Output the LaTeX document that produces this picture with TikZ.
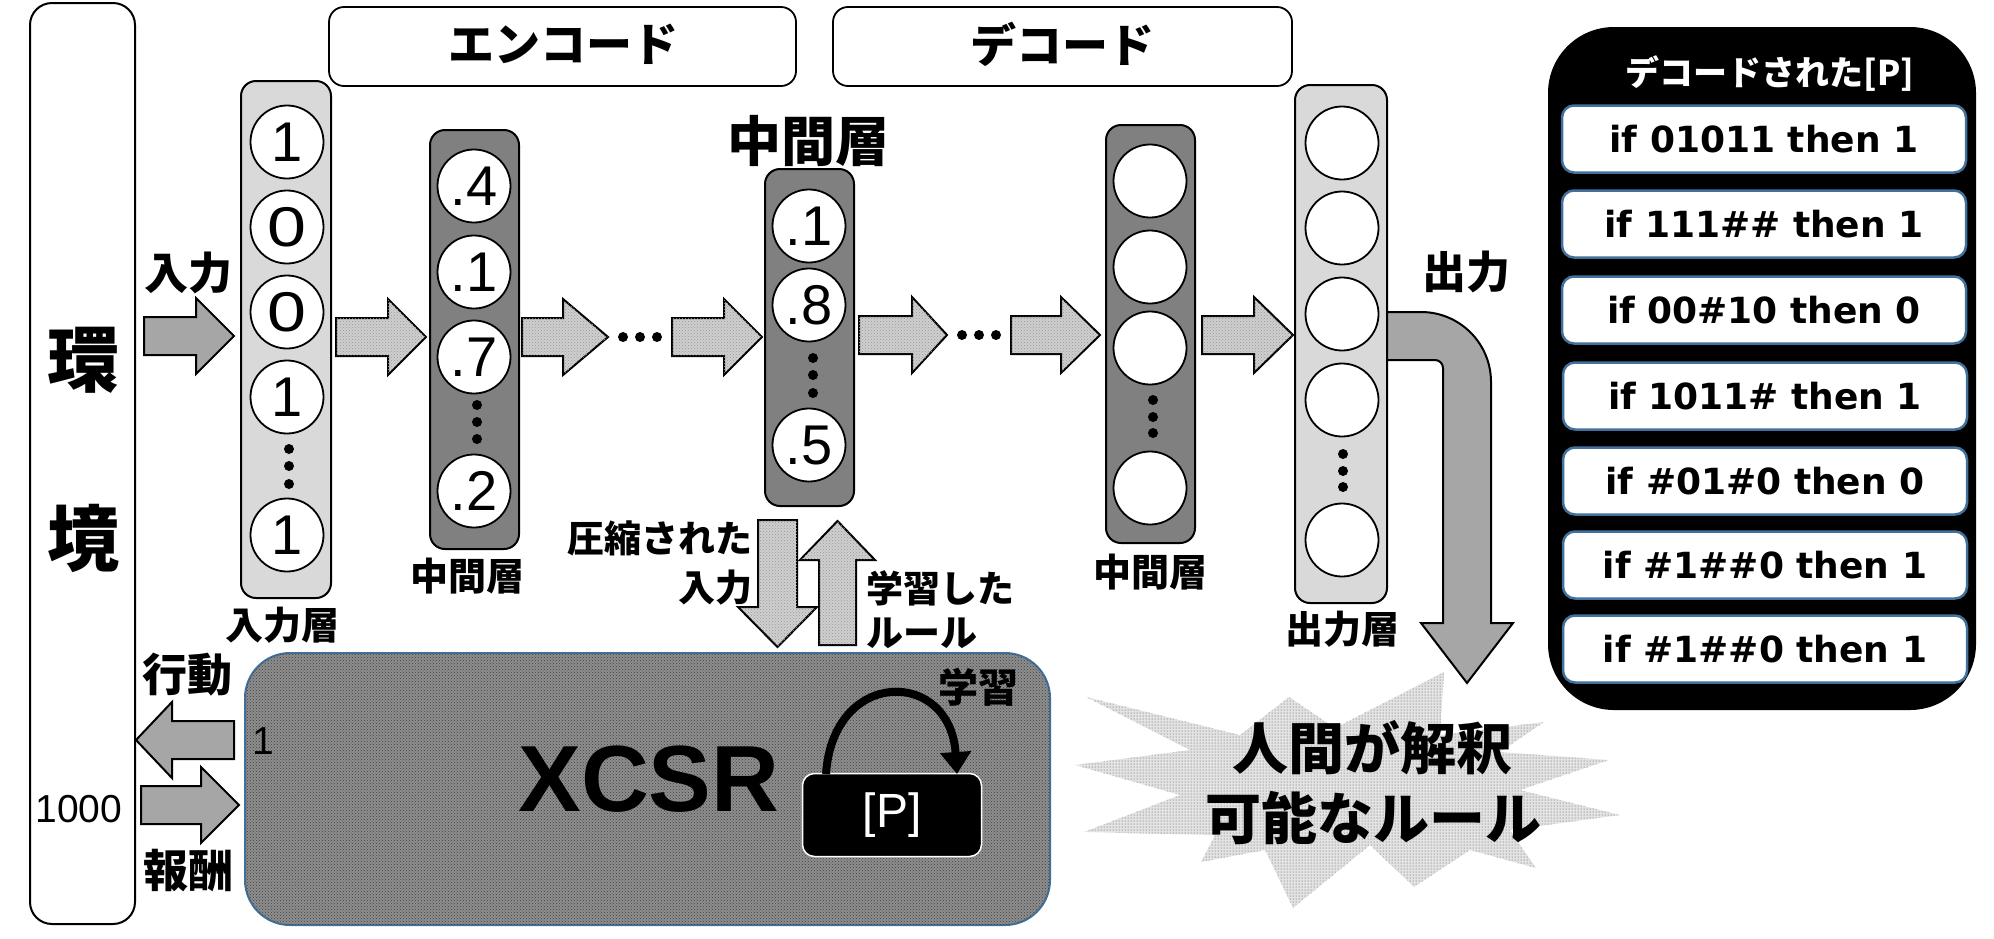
\documentclass[tikz,border=0pt]{standalone}
\usepackage{fontspec}
\setmainfont{Liberation Sans}
\newfontfamily\jpfont{Noto Sans CJK JP}
\newfontfamily\dvfont{DejaVu Sans}
\usetikzlibrary{patterns,arrows.meta}
\newcommand{\fsz}[1]{\fontsize{#1}{#1}\selectfont}
\newcommand{\wz}{\scalebox{1.25}[1]{0}}
\definecolor{lgray}{HTML}{D9D9D9}
\definecolor{dgray}{HTML}{808080}
\definecolor{agray}{HTML}{A6A6A6}
\definecolor{sgray}{HTML}{CFCFCF}
\definecolor{xgray}{HTML}{8E8E8E}
\definecolor{pblue}{HTML}{41719C}
% right block arrow: style, x1, xtip, head start, yc
\newcommand{\myRArrow}[5]{%
  \draw[#1] (#2,#5-19) -- (#4,#5-19) -- (#4,#5-38) -- (#3,#5) -- (#4,#5+38) -- (#4,#5+19) -- (#2,#5+19) -- cycle;}
% left block arrow: style, x1(right end), xtip, head start, yc
\newcommand{\myLArrow}[5]{%
  \draw[#1] (#2,#5-19) -- (#4,#5-19) -- (#4,#5-38) -- (#3,#5) -- (#4,#5+38) -- (#4,#5+19) -- (#2,#5+19) -- cycle;}
\begin{document}
\begin{tikzpicture}[x=1pt,y=-1pt,line width=2pt,
  jpb/.style={font=\jpfont\bfseries\fsz{#1}, inner sep=0pt},
  num/.style={font=\fsz{#1}, inner sep=0pt},
  unit/.style={circle, draw=black, fill=white, minimum size=73pt, inner sep=0pt, line width=1.8pt, font=\fsz{56}},
  layerL/.style={draw=black, fill=lgray, rounded corners=15pt},
  layerD/.style={draw=black, fill=dgray, rounded corners=15pt},
  dotarrow/.style={draw=black, fill=sgray, postaction={pattern=crosshatch dots, pattern color=black!40}},
  solidarrow/.style={draw=black, fill=agray},
  titlebox/.style={draw=black, rounded corners=15pt, line width=1.8pt},
  rulebox/.style={draw=pblue, fill=white, rounded corners=12pt, line width=2.5pt, minimum width=404pt, minimum height=67pt, inner sep=0pt, font=\dvfont\bfseries\fsz{36}},
  ldot/.style={fill=black}
]
\useasboundingbox (0,0) rectangle (1994,938);

% environment
\draw[fill=white, rounded corners=22pt] (30,3) rectangle (135,924);
\node[jpb=72] (kan) at (83,360) {環};
\node[jpb=72] (kyo) at (83,538) {境};
\node[num=39] (thou) at (79,809) {1000};

% encode / decode boxes
\draw[titlebox] (329,7) rectangle (796,86);
\node[jpb=46] (enc) at (563,44) {エンコード};
\draw[titlebox] (833,7) rectangle (1292,86);
\node[jpb=46] (dec) at (1062,44) {デコード};

% input layer
\draw[layerL] (241,81) rectangle (331,598);
\node[unit] (i1) at (287,142) {1};
\node[unit] (i2) at (287,227) {\wz};
\node[unit] (i3) at (287,312) {\wz};
\node[unit] (i4) at (287,397) {1};
\node[unit] (i5) at (287,535) {1};
\foreach \yy in {449,466,484} \fill[ldot] (289,\yy) circle (5pt);
\node[jpb=38] (inlab) at (282,625) {入力層};

% middle layer 1
\draw[layerD] (430,130) rectangle (519,549);
\node[unit] (m1) at (474,186) {.4};
\node[unit] (m2) at (474,272) {.1};
\node[unit] (m3) at (474,357) {.7};
\node[unit] (m4) at (474,491) {.2};
\foreach \yy in {405,422,439} \fill[ldot] (477,\yy) circle (5pt);
\node[jpb=38] (m1lab) at (467,576) {中間層};

% center layer
\draw[layerD] (765,169) rectangle (854,506);
\node[unit] (c1) at (809,226) {.1};
\node[unit] (c2) at (809,305) {.8};
\node[unit] (c3) at (809,445) {.5};
\foreach \yy in {358,375,393} \fill[ldot] (813,\yy) circle (5pt);
\node[jpb=54] (clab) at (808,141) {中間層};

% middle layer 2
\draw[layerD] (1106,125) rectangle (1195,543);
\node[unit] (d1) at (1150,181) {};
\node[unit] (d2) at (1150,267) {};
\node[unit] (d3) at (1150,348) {};
\node[unit] (d4) at (1150,488) {};
\foreach \yy in {400,417,433} \fill[ldot] (1153,\yy) circle (5pt);
\node[jpb=38] (m2lab) at (1150,572) {中間層};

% output layer
\draw[layerL] (1295,85) rectangle (1387,603);
\node[unit] (o1) at (1342,143) {};
\node[unit] (o2) at (1342,228) {};
\node[unit] (o3) at (1342,314) {};
\node[unit] (o4) at (1342,400) {};
\node[unit] (o5) at (1342,540) {};
\foreach \yy in {454,471,487} \fill[ldot] (1343,\yy) circle (5pt);
\node[jpb=38] (outlab) at (1342,629) {出力層};

% horizontal arrows
\myRArrow{solidarrow}{144}{234}{196}{336}
\node[jpb=44] (inp) at (188,273) {入力};
\myRArrow{dotarrow}{336}{426}{388}{337}
\myRArrow{dotarrow}{522}{608}{563}{337}
\foreach \xx in {623,640,657} \fill[ldot] (\xx,337) circle (5pt);
\myRArrow{dotarrow}{672}{762}{724}{337}
\myRArrow{dotarrow}{859}{947}{912}{335}
\foreach \xx in {962,979,996} \fill[ldot] (\xx,335) circle (5pt);
\myRArrow{dotarrow}{1011}{1100}{1061}{335}
\myRArrow{dotarrow}{1202}{1293}{1254}{335}

% starburst
\path[fill=gray!22, postaction={pattern=dots, pattern color=black!70}]
  (1086,697) -- (1240,735) -- (1289,697) -- (1335,728) -- (1444,672) -- (1440,735)
  -- (1544,722) -- (1500,752) -- (1609,760) -- (1520,790) -- (1620,815) -- (1510,830)
  -- (1536,868) -- (1470,850) -- (1414,887) -- (1370,845) -- (1293,908) -- (1265,850)
  -- (1201,862) -- (1215,835) -- (1084,832) -- (1180,795) -- (1075,765) -- (1190,750) -- cycle;
\node[jpb=56] (hum1) at (1372,748) {人間が解釈};
\node[jpb=56] (hum2) at (1373,818) {可能なルール};

% output bent arrow
\draw[solidarrow] (1387,312) -- (1421,312) .. controls (1459.7,312) and (1491,343.3) .. (1491,382)
  -- (1491,623) -- (1513,623) -- (1467,683) -- (1421,623) -- (1443,623) -- (1443,368)
  .. controls (1443,363.6) and (1439.4,360) .. (1435,360) -- (1387,360) -- cycle;
\node[jpb=44] (outp) at (1466,272) {出力};

% XCSR box
\draw[draw=pblue, fill=xgray, rounded corners=45pt, postaction={pattern=crosshatch dots, pattern color=black!75}] (245,653) rectangle (1050,925);
\node[font=\bfseries\fsz{94}, inner sep=0pt] (xcsr) at (649,779) {XCSR};
\node[num=39] (one) at (263,741) {1};
\node[draw=white, fill=black, rounded corners=12pt, line width=1.5pt, minimum width=179pt, minimum height=83pt, inner sep=0pt, text=white, font=\fsz{48}] (P) at (892,815) {[P]};
\draw[line width=8pt, -{Triangle[length=22pt,width=30pt]}] (826,774) .. controls (833,668) and (950,668) .. (957,774);
\node[jpb=40] (learn) at (978,687) {学習};

% down / up arrows
\draw[dotarrow] (758,520) -- (797,520) -- (797,607) -- (817,607) -- (777.5,647) -- (738,607) -- (758,607) -- cycle;
\draw[dotarrow] (819,645) -- (856,645) -- (856,560) -- (875,560) -- (837.5,521) -- (800,560) -- (819,560) -- cycle;
\node[jpb=37, anchor=east] (comp1) at (753,538) {圧縮された};
\node[jpb=37, anchor=east] (comp2) at (753,588) {入力};
\node[jpb=37, anchor=west] (rule1) at (865,588) {学習した};
\node[jpb=37, anchor=west] (rule2) at (865,633) {ルール};

% action / reward arrows
\myLArrow{solidarrow}{234}{136}{172}{740}
\myRArrow{solidarrow}{141}{239}{201}{805}
\node[jpb=45] (act) at (187,675) {行動};
\node[jpb=45] (rew) at (188,871) {報酬};

% decoded rules panel
\draw[fill=black, rounded corners=65pt] (1549,28) rectangle (1975,709);
\node[jpb=34, text=white] (dtitle) at (1770,74) {デコードされた[P]};
\node[rulebox] (r1) at (1764,139) {if 01011 then 1};
\node[rulebox] (r2) at (1764,224) {if 111\#\# then 1};
\node[rulebox] (r3) at (1764,310) {if 00\#10 then 0};
\node[rulebox] (r4) at (1765,396) {if 1011\# then 1};
\node[rulebox] (r5) at (1765,481) {if \#01\#0 then 0};
\node[rulebox] (r6) at (1765,565) {if \#1\#\#0 then 1};
\node[rulebox] (r7) at (1765,649) {if \#1\#\#0 then 1};
\end{tikzpicture}
\end{document}
